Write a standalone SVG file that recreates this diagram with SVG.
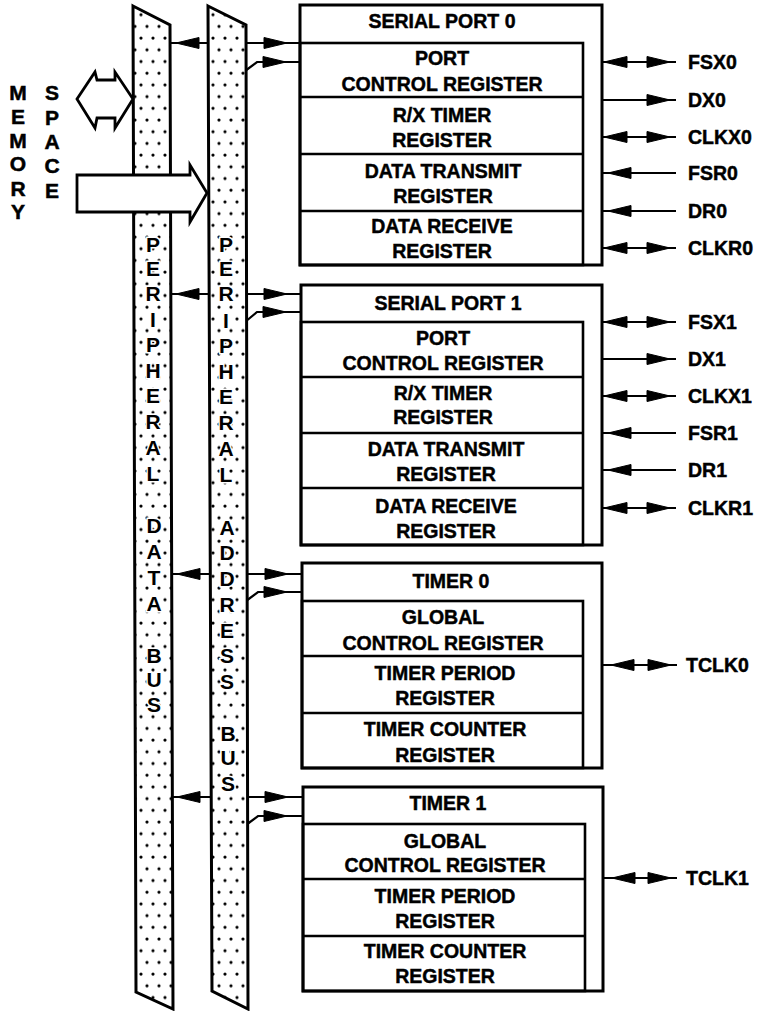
<svg xmlns="http://www.w3.org/2000/svg" xmlns:xlink="http://www.w3.org/1999/xlink" width="757" height="1011" viewBox="0 0 757 1011">
<style>
.box{fill:#fff;stroke:#000;stroke-width:3}
.reg{fill:none;stroke:#000;stroke-width:2.6}
.t{font-family:"Liberation Sans",Arial,sans-serif;font-weight:bold;font-size:19.5px;text-anchor:middle;fill:#000;stroke:#000;stroke-width:0.45}
.m{font-family:"Liberation Sans",Arial,sans-serif;font-weight:bold;font-size:21px;text-anchor:middle;fill:#000;stroke:#000;stroke-width:0.5}
.s{font-family:"Liberation Sans",Arial,sans-serif;font-weight:bold;font-size:19.5px;text-anchor:start;fill:#000;stroke:#000;stroke-width:0.45}
.bl{font-family:"Liberation Sans",Arial,sans-serif;font-weight:bold;font-size:21px;text-anchor:middle;fill:#000;stroke:#fff;stroke-width:3;paint-order:stroke}
.w{fill:none;stroke:#000;stroke-width:2.2}
.bus{fill:url(#dots);stroke:#000;stroke-width:3;stroke-linejoin:miter}
.hol{fill:#fff;stroke:#000;stroke-width:2.8;stroke-linejoin:miter}
</style>
<defs>
<pattern id="dots" patternUnits="userSpaceOnUse" width="12" height="23.4">
<rect width="12" height="23.4" fill="#fff"/>
<circle cx="3" cy="3" r="1.6" fill="#000"/>
<circle cx="9" cy="14.7" r="1.6" fill="#000"/>
</pattern>
<path id="ahR" d="M0,0 L-23,-5.5 L-23,5.5 Z" fill="#000" stroke="#000" stroke-width="1" stroke-linejoin="round"/>
<path id="ahL" d="M0,0 L23,-5.5 L23,5.5 Z" fill="#000" stroke="#000" stroke-width="1" stroke-linejoin="round"/>
</defs>
<rect width="757" height="1011" fill="#fff"/>

<g id="connectors">
<!-- Serial port 0 -->
<path class="w" d="M170,43 H300"/>
<use xlink:href="#ahL" x="176" y="43"/>
<use xlink:href="#ahR" x="287" y="43"/>
<path class="w" d="M245,71 L257,62 H300"/>
<use xlink:href="#ahR" x="286" y="62"/>
<!-- Serial port 1 -->
<path class="w" d="M171,294 H301"/>
<use xlink:href="#ahL" x="176" y="294"/>
<use xlink:href="#ahR" x="287" y="294"/>
<path class="w" d="M245,322 L257,312 H301"/>
<use xlink:href="#ahR" x="286" y="312"/>
<!-- Timer 0 -->
<path class="w" d="M172,574 H302"/>
<use xlink:href="#ahL" x="177" y="574"/>
<use xlink:href="#ahR" x="288" y="574"/>
<path class="w" d="M246,601 L258,592 H302"/>
<use xlink:href="#ahR" x="287" y="592"/>
<!-- Timer 1 -->
<path class="w" d="M172,797 H303"/>
<use xlink:href="#ahL" x="177" y="797"/>
<use xlink:href="#ahR" x="288" y="797"/>
<path class="w" d="M246,825 L258,816 H303"/>
<use xlink:href="#ahR" x="287" y="816"/>

<!-- Serial port 0 pins -->
<path class="w" d="M602,62 H676 M602,100 H676 M602,137 H676 M602,173 H676 M602,211 H676 M602,248 H676"/>
<use xlink:href="#ahL" x="604" y="62"/><use xlink:href="#ahR" x="670" y="62"/>
<use xlink:href="#ahR" x="670" y="100"/>
<use xlink:href="#ahL" x="604" y="137"/><use xlink:href="#ahR" x="670" y="137"/>
<use xlink:href="#ahL" x="608" y="173"/>
<use xlink:href="#ahL" x="608" y="211"/>
<use xlink:href="#ahL" x="604" y="248"/><use xlink:href="#ahR" x="670" y="248"/>
<!-- Serial port 1 pins -->
<path class="w" d="M602,322 H676 M602,359 H676 M602,396 H676 M602,433 H676 M602,470 H676 M602,508 H676"/>
<use xlink:href="#ahL" x="604" y="322"/><use xlink:href="#ahR" x="670" y="322"/>
<use xlink:href="#ahR" x="670" y="359"/>
<use xlink:href="#ahL" x="604" y="396"/><use xlink:href="#ahR" x="670" y="396"/>
<use xlink:href="#ahL" x="608" y="433"/>
<use xlink:href="#ahL" x="608" y="470"/>
<use xlink:href="#ahL" x="604" y="508"/><use xlink:href="#ahR" x="670" y="508"/>
<!-- Timer pins -->
<path class="w" d="M602,665 H677 M603,878 H677"/>
<use xlink:href="#ahL" x="611" y="665"/><use xlink:href="#ahR" x="671" y="665"/>
<use xlink:href="#ahL" x="612" y="878"/><use xlink:href="#ahR" x="671" y="878"/>
</g>

<g id="pin-labels">
<text class="s" x="688" y="69">FSX0</text>
<text class="s" x="688" y="107">DX0</text>
<text class="s" x="688" y="144">CLKX0</text>
<text class="s" x="688" y="180">FSR0</text>
<text class="s" x="688" y="218">DR0</text>
<text class="s" x="688" y="255">CLKR0</text>
<text class="s" x="688" y="329">FSX1</text>
<text class="s" x="688" y="366">DX1</text>
<text class="s" x="688" y="403">CLKX1</text>
<text class="s" x="688" y="440">FSR1</text>
<text class="s" x="688" y="477">DR1</text>
<text class="s" x="688" y="515">CLKR1</text>
<text class="s" x="686" y="672">TCLK0</text>
<text class="s" x="686" y="885">TCLK1</text>
</g>

<g id="dataBus">
<polygon class="bus" points="133,6 170,25 173,1009 136,992"/>
<text class="bl" x="153" y="252">P</text>
<text class="bl" x="153" y="276">E</text>
<text class="bl" x="153" y="301">R</text>
<text class="bl" x="153" y="327">I</text>
<text class="bl" x="153" y="352">P</text>
<text class="bl" x="153" y="378">H</text>
<text class="bl" x="153" y="403">E</text>
<text class="bl" x="153" y="429">R</text>
<text class="bl" x="153" y="455">A</text>
<text class="bl" x="153" y="481">L</text>
<text class="bl" x="154" y="533">D</text>
<text class="bl" x="154" y="559">A</text>
<text class="bl" x="154" y="585">T</text>
<text class="bl" x="154" y="611">A</text>
<text class="bl" x="154" y="663">B</text>
<text class="bl" x="154" y="687">U</text>
<text class="bl" x="154" y="712">S</text>
</g>

<g id="addrBus">
<polygon class="bus" points="208,6 246,25 248,1009 212,991"/>
<text class="bl" x="226" y="252">P</text>
<text class="bl" x="226" y="276">E</text>
<text class="bl" x="226" y="301">R</text>
<text class="bl" x="226" y="328">I</text>
<text class="bl" x="226" y="353">P</text>
<text class="bl" x="226" y="379">H</text>
<text class="bl" x="226" y="404">E</text>
<text class="bl" x="226" y="430">R</text>
<text class="bl" x="226" y="456">A</text>
<text class="bl" x="226" y="482">L</text>
<text class="bl" x="227" y="535">A</text>
<text class="bl" x="227" y="560">D</text>
<text class="bl" x="227" y="586">D</text>
<text class="bl" x="227" y="612">R</text>
<text class="bl" x="227" y="638">E</text>
<text class="bl" x="227" y="663">S</text>
<text class="bl" x="227" y="689">S</text>
<text class="bl" x="228" y="741">B</text>
<text class="bl" x="228" y="765">U</text>
<text class="bl" x="228" y="791">S</text>
</g>

<g id="memorySpace">
<polygon class="hol" points="77,99 95,72 97,80 115,80 115,72 133,99 115,128 115,118 97,118 95,128"/>
<polygon class="hol" points="77,175 190,175 190,165 207,193 190,222 190,212 77,212"/>
<text class="m" x="18" y="100">M</text>
<text class="m" x="18" y="124">E</text>
<text class="m" x="18" y="148">M</text>
<text class="m" x="18" y="171">O</text>
<text class="m" x="18" y="196">R</text>
<text class="m" x="18" y="219">Y</text>
<text class="m" x="52" y="100">S</text>
<text class="m" x="52" y="125">P</text>
<text class="m" x="52" y="149">A</text>
<text class="m" x="52" y="173">C</text>
<text class="m" x="52" y="198">E</text>
</g>

<g id="sp0">
<rect class="box" x="300" y="5" width="302" height="260"/>
<rect class="reg" x="300" y="43" width="283" height="222"/>
<path class="reg" d="M300,97 H583 M300,154 H583 M300,211 H583"/>
<text class="t" x="442" y="28">SERIAL PORT 0</text>
<text class="t" x="442" y="65">PORT</text>
<text class="t" x="442" y="91">CONTROL REGISTER</text>
<text class="t" x="442" y="122">R/X TIMER</text>
<text class="t" x="442" y="147">REGISTER</text>
<text class="t" x="443" y="178">DATA TRANSMIT</text>
<text class="t" x="443" y="203">REGISTER</text>
<text class="t" x="442" y="233">DATA RECEIVE</text>
<text class="t" x="442" y="258">REGISTER</text>
</g>

<g id="sp1">
<rect class="box" x="301" y="285" width="301" height="260"/>
<rect class="reg" x="301" y="322" width="282" height="223"/>
<path class="reg" d="M301,377 H583 M301,433 H583 M301,488 H583"/>
<text class="t" x="448" y="310">SERIAL PORT 1</text>
<text class="t" x="443" y="345">PORT</text>
<text class="t" x="443" y="370">CONTROL REGISTER</text>
<text class="t" x="443" y="400">R/X TIMER</text>
<text class="t" x="443" y="424">REGISTER</text>
<text class="t" x="446" y="456">DATA TRANSMIT</text>
<text class="t" x="446" y="481">REGISTER</text>
<text class="t" x="446" y="513">DATA RECEIVE</text>
<text class="t" x="446" y="538">REGISTER</text>
</g>

<g id="timer0">
<rect class="box" x="302" y="563" width="300" height="205"/>
<rect class="reg" x="302" y="601" width="281" height="167"/>
<path class="reg" d="M302,656 H583 M302,713 H583"/>
<text class="t" x="451" y="588">TIMER 0</text>
<text class="t" x="443" y="624">GLOBAL</text>
<text class="t" x="443" y="650">CONTROL REGISTER</text>
<text class="t" x="445" y="680">TIMER PERIOD</text>
<text class="t" x="445" y="705">REGISTER</text>
<text class="t" x="445" y="736">TIMER COUNTER</text>
<text class="t" x="445" y="762">REGISTER</text>
</g>

<g id="timer1">
<rect class="box" x="303" y="787" width="300" height="204"/>
<rect class="reg" x="303" y="824" width="282" height="167"/>
<path class="reg" d="M303,879 H585 M303,936 H585"/>
<text class="t" x="448" y="810">TIMER 1</text>
<text class="t" x="445" y="848">GLOBAL</text>
<text class="t" x="445" y="872">CONTROL REGISTER</text>
<text class="t" x="445" y="903">TIMER PERIOD</text>
<text class="t" x="445" y="928">REGISTER</text>
<text class="t" x="445" y="958">TIMER COUNTER</text>
<text class="t" x="445" y="983">REGISTER</text>
</g>
</svg>
